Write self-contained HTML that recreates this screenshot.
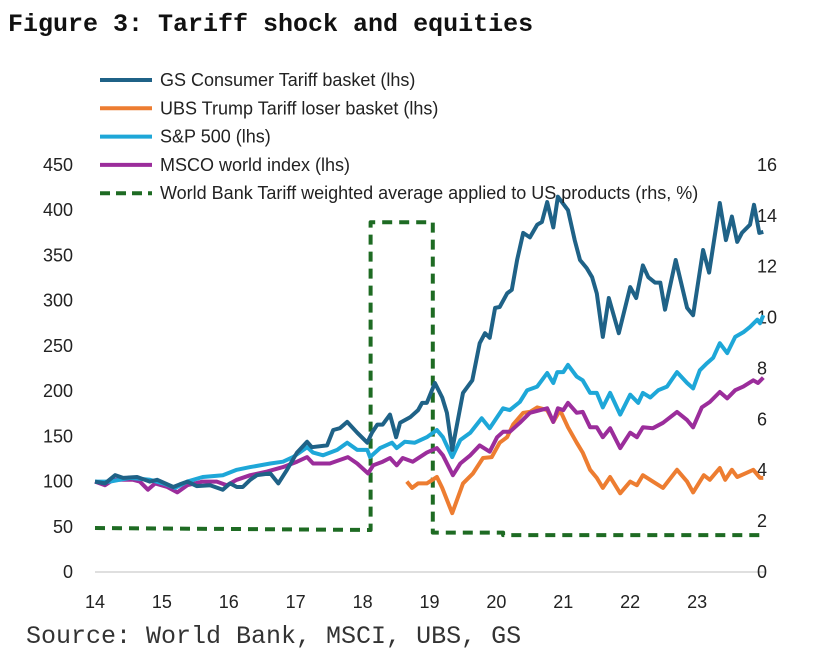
<!DOCTYPE html>
<html><head><meta charset="utf-8"><style>
body{margin:0;background:#fff;width:830px;height:659px;overflow:hidden}
svg text{font-family:"Liberation Sans",sans-serif}
</style></head><body>
<svg id="c" width="830" height="659">
<text x="8" y="31" style="font-family:'Liberation Mono',monospace" font-size="25" font-weight="bold" fill="#111">Figure 3: Tariff shock and equities</text>
<text x="26" y="643" style="font-family:'Liberation Mono',monospace" font-size="25" fill="#333">Source: World Bank, MSCI, UBS, GS</text>
<g id="axes"></g><g id="series"></g><g id="legend"></g>
</svg>
<script>
const xTicks=[14,15,16,17,18,19,20,21,22,23];
const yLeftTicks=[0,50,100,150,200,250,300,350,400,450];
const yRightTicks=[0,2,4,6,8,10,12,14,16];
const gsT=[14.0,14.15,14.3,14.42,14.63,14.82,14.93,15.17,15.27,15.38,15.52,15.72,15.91,16.02,16.12,16.21,16.32,16.42,16.62,16.74,16.87,17.02,17.17,17.24,17.47,17.56,17.66,17.77,17.92,18.07,18.14,18.22,18.3,18.41,18.5,18.56,18.71,18.83,18.89,18.96,19.08,19.19,19.26,19.34,19.5,19.64,19.75,19.83,19.9,19.98,20.05,20.16,20.23,20.31,20.4,20.5,20.61,20.68,20.76,20.85,20.92,21.07,21.17,21.25,21.35,21.43,21.5,21.59,21.68,21.83,22.0,22.09,22.19,22.27,22.37,22.45,22.52,22.68,22.85,22.94,23.09,23.18,23.34,23.43,23.52,23.6,23.67,23.79,23.85,23.93,23.99];
const gsV=[100,98,107,104,105,100,102,94,97,100,95,96,91,98,94,94,102,107,109,98,113,132,144,138,140,157,159,166,154,143,154,163,163,174,149,165,171,179,187,187,209,193,176,135,198,212,253,264,259,292,293,308,312,345,375,370,384,387,409,381,415,400,367,345,336,326,308,260,303,264,315,303,339,326,320,320,290,345,292,284,356,331,408,367,393,365,375,384,406,375,376];
const spT=[14.0,14.22,14.52,14.82,15.02,15.2,15.38,15.61,15.91,16.12,16.32,16.62,16.81,16.96,17.17,17.26,17.41,17.62,17.77,17.92,18.07,18.11,18.26,18.44,18.51,18.63,18.78,18.96,19.11,19.2,19.34,19.46,19.61,19.78,19.9,20.1,20.2,20.35,20.46,20.61,20.76,20.85,20.91,21.0,21.07,21.2,21.29,21.4,21.5,21.59,21.7,21.85,22.0,22.12,22.19,22.3,22.42,22.55,22.7,22.85,22.94,23.04,23.15,23.24,23.34,23.45,23.57,23.69,23.79,23.9,23.94,23.99];
const spV=[100,100,104,102,98,93,100,105,107,113,116,120,122,127,138,132,129,135,143,135,135,127,137,143,137,144,143,149,157,149,127,146,154,170,159,181,179,188,201,205,220,209,221,221,229,216,212,198,198,182,198,174,196,187,198,193,201,205,221,209,203,223,231,237,253,242,260,265,271,279,275,284];
const msT=[14.0,14.15,14.27,14.57,14.67,14.79,14.9,15.08,15.23,15.38,15.61,15.82,15.97,16.12,16.32,16.57,16.81,17.02,17.17,17.26,17.51,17.78,17.92,18.08,18.16,18.3,18.41,18.51,18.6,18.75,18.96,19.11,19.2,19.35,19.46,19.61,19.75,19.9,20.01,20.1,20.2,20.35,20.5,20.76,20.85,20.92,21.0,21.07,21.2,21.29,21.4,21.5,21.59,21.7,21.85,22.0,22.1,22.19,22.34,22.49,22.7,22.85,22.94,23.07,23.19,23.34,23.45,23.57,23.69,23.84,23.91,23.99];
const msV=[100,96,102,102,100,91,98,94,88,96,100,100,96,102,107,111,116,122,127,120,120,127,120,109,118,122,126,118,126,122,132,137,129,107,120,129,140,133,149,155,155,165,176,181,166,181,179,187,176,177,160,160,149,159,137,154,149,160,159,165,177,168,160,182,188,199,192,201,205,212,209,215];
const ubT=[18.66,18.74,18.83,18.96,19.11,19.19,19.34,19.5,19.65,19.8,19.93,20.05,20.16,20.25,20.4,20.5,20.61,20.76,20.85,20.95,21.07,21.2,21.29,21.4,21.5,21.59,21.7,21.85,22.0,22.1,22.19,22.34,22.49,22.7,22.85,22.94,23.1,23.19,23.34,23.42,23.52,23.6,23.72,23.84,23.94,23.99];
const ubV=[100,93,98,98,105,93,65,98,109,126,127,143,149,163,176,177,182,179,166,179,160,143,132,113,104,93,105,87,100,96,107,100,93,113,100,88,107,102,115,102,113,105,109,113,104,104];
const wbT=[14.0,18.12,18.12,19.05,19.05,20.1,20.1,23.99];
const wbV=[1.73,1.65,13.75,13.75,1.55,1.55,1.45,1.45];

const NS='http://www.w3.org/2000/svg';
const X=t=>95+(t-14)*66.9;
const YL=v=>572-v*0.9044;
const YR=v=>572-v*25.44;
function mk(tag,attrs,parent){const e=document.createElementNS(NS,tag);for(const k in attrs)e.setAttribute(k,attrs[k]);document.getElementById(parent).appendChild(e);return e;}

let ax=mk('line',{x1:95,x2:765,y1:572,y2:572,stroke:'#bfbfbf','stroke-width':1},'axes');


xTicks.forEach(t=>{const e=mk('text',{x:X(t),y:608,'font-size':18,'text-anchor':'middle',fill:'#222'},'axes');e.textContent=t;

});
yLeftTicks.forEach(v=>{const e=mk('text',{x:73,y:YL(v)+6,'font-size':18,'text-anchor':'end',fill:'#222'},'axes');e.textContent=v;

});
yRightTicks.forEach(v=>{const e=mk('text',{x:757,y:YR(v)+6,'font-size':18,'text-anchor':'start',fill:'#222'},'axes');e.textContent=v;

});

function line(T,V,Y,color,name,dash){
 const d=T.map((t,i)=>(i?'L':'M')+X(t).toFixed(1)+','+Y(V[i]).toFixed(1)).join('');
 const p=mk('path',{d:d,fill:'none',stroke:color,'stroke-width':4,'stroke-linejoin':'round'},'series');
 if(dash)p.setAttribute('stroke-dasharray',dash);
 
 
}
line(wbT,wbV,YR,'#1e6b23','world-bank-tariff-line','10,7');
line(ubT,ubV,YL,'#ed7d31','ubs-loser-basket-line');
line(msT,msV,YL,'#9b2d9b','msci-world-line');
line(spT,spV,YL,'#1ea7d8','sp500-line');
line(gsT,gsV,YL,'#1f6287','gs-consumer-tariff-line');

const legNames=['GS Consumer Tariff basket (lhs)','UBS Trump Tariff loser basket (lhs)','S&P 500 (lhs)','MSCO world index (lhs)','World Bank Tariff weighted average applied to US products (rhs, %)'];
const legColors=['#1f6287','#ed7d31','#1ea7d8','#9b2d9b','#1e6b23'];
legNames.forEach((n,i)=>{const y=80+i*28.3;
 const l=mk('line',{x1:100,x2:152,y1:y,y2:y,stroke:legColors[i],'stroke-width':4},'legend');
 if(i==4)l.setAttribute('stroke-dasharray','10,6');
 
 
 const t=mk('text',{x:160,y:y+6,'font-size':18,fill:'#222'},'legend');t.textContent=n;
 
 
});
</script>
</body></html>
